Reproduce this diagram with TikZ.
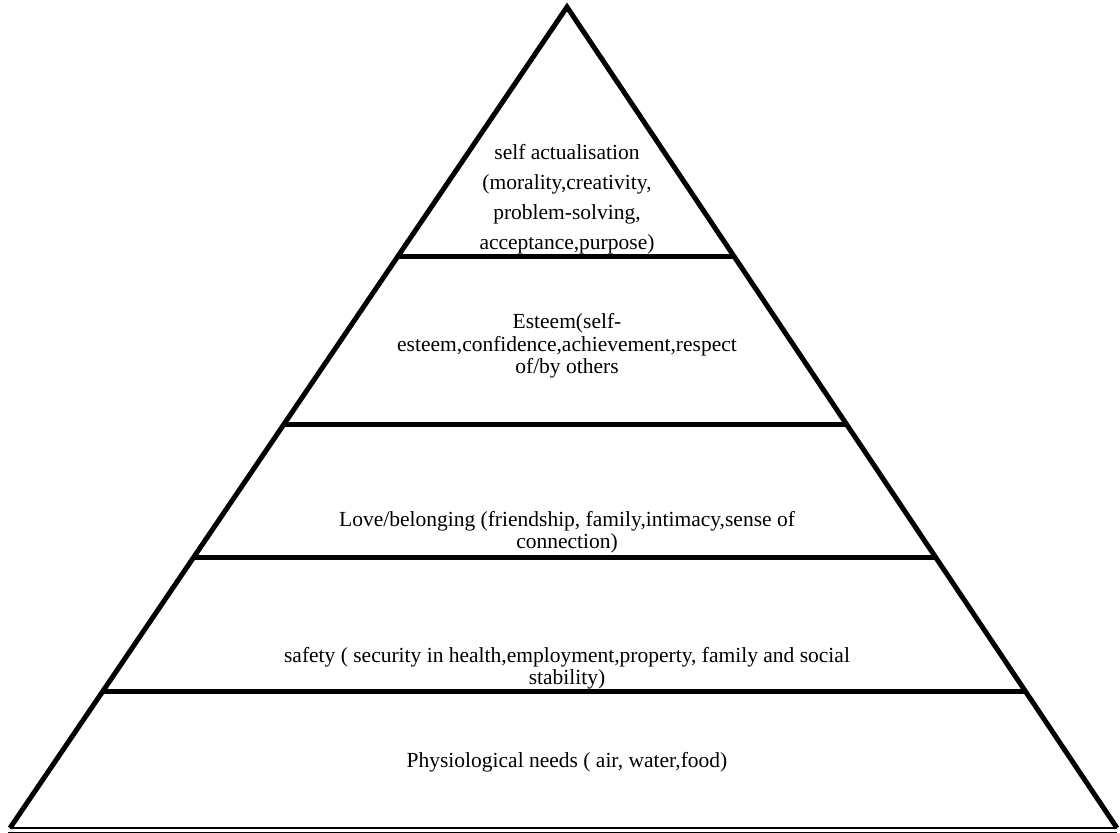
\documentclass[tikz,border=0pt]{standalone}
\usepackage{fontspec}
\setmainfont{Liberation Serif}
\usetikzlibrary{calc}
\begin{document}
\begin{tikzpicture}[x=1pt,y=-1pt,
  side/.style={line width=5pt, line join=miter},
  bar/.style={line width=5pt},
  lbl/.style={align=center, inner sep=0pt, font=\fontsize{21.5}{22.5}\selectfont}]
\useasboundingbox (0,0) rectangle (1120,833);
\coordinate (A) at (567,7);
\coordinate (L) at (10,828);
\coordinate (R) at (1117,828);
\draw[side] (L) -- (A) -- (R);
\draw[line width=2pt] (L) -- (R);
\coordinate (B1) at (8,832);
\coordinate (B2) at (1117,832);
\draw[line width=1pt] (B1) -- (B2);
\foreach \t in {0.3033,0.5091,0.6711,0.8343}
  \draw[bar] ($(A)!\t!(L)$) -- ($(A)!\t!(R)$);
\node[lbl, font=\fontsize{21.5}{30}\selectfont] (top) at (567,199)
  {self actualisation\\(morality,creativity,\\problem-solving,\\acceptance,purpose)};
\node[lbl] (esteem) at (567,346)
  {Esteem(self-\\esteem,confidence,achievement,respect\\of/by others};
\node[lbl] (love) at (567,532)
  {Love/belonging (friendship, family,intimacy,sense of\\connection)};
\node[lbl] (safety) at (567,668)
  {safety ( security in health,employment,property, family and social\\stability)};
\node[lbl] (phys) at (567,762)
  {Physiological needs ( air, water,food)};
\end{tikzpicture}
\end{document}
